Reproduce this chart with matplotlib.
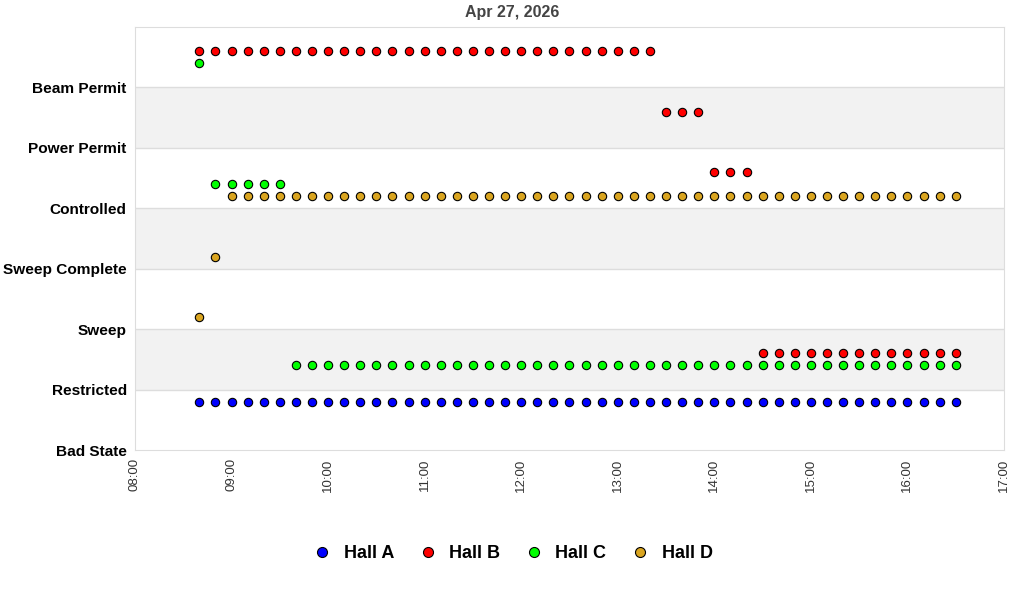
import numpy as np
import matplotlib.pyplot as plt
import matplotlib.dates as mdates
from datetime import datetime, timedelta

states = ["Bad State", "Restricted", "Sweep", "Sweep Complete",
          "Controlled", "Power Permit", "Beam Permit"]
halls = ["Hall A", "Hall B", "Hall C", "Hall D"]
colors = ["#0000ff", "#ff0000", "#00ff00", "#daa520"]
offsets = [-0.2, 0.6, 0.4, 0.2]

# samples every 10 min, 08:40 .. 16:30
start = datetime(2026, 4, 27, 8, 40)
times = [start + timedelta(minutes=10 * i) for i in range(48)]

hall_a = [1] * 48
hall_b = [6] * 29 + [5] * 3 + [4] * 3 + [1] * 13
hall_c = [6] * 1 + [4] * 5 + [1] * 42
hall_d = [2, 3] + [4] * 46
series = [hall_a, hall_b, hall_c, hall_d]

plt.rcParams['font.family'] = ['Liberation Sans', 'DejaVu Sans']
fig = plt.figure(figsize=(10.24, 6), dpi=100)
ax = fig.add_axes([135 / 1024, 1 - 450 / 600, 869 / 1024, 423 / 600])

for lo in (1, 3, 5):
    ax.axhspan(lo, lo + 1, color="#f2f2f2", zorder=0, lw=0)
for y in range(1, 7):
    ax.axhline(y, color="#dddddd", lw=1, zorder=1)

for name, vals, c, off in zip(halls, series, colors, offsets):
    ax.plot(times, np.array(vals) + off, "o", ms=6, mfc=c, mec="black",
            mew=0.8, label=name, zorder=3, ls="none")

ax.set_ylim(0, 7)
ax.set_yticks(range(7))
ax.set_yticklabels(states, fontsize=11.1, fontweight="bold")
ax.set_xlim(datetime(2026, 4, 27, 8, 0), datetime(2026, 4, 27, 17, 0))
ax.xaxis.set_major_locator(mdates.HourLocator())
ax.xaxis.set_major_formatter(mdates.DateFormatter("%H:%M"))
ax.tick_params(axis="x", labelrotation=90, labelsize=9.5, length=0,
               labelcolor="#333333", pad=6)
ax.tick_params(axis="y", length=0, pad=6)
for s in ax.spines.values():
    s.set_color("#dddddd")

fig.text(0.5, 1 - 12 / 600, "Apr 27, 2026", ha="center", va="center",
         fontsize=11.5, fontweight="bold", color="#444444")

fig.legend(loc="center", bbox_to_anchor=(0.5, 1 - 554 / 600), ncol=4, frameon=False,
           prop={"size": 13, "weight": "bold"}, markerscale=1.2,
           handletextpad=0.6, columnspacing=1.25, handlelength=1.2)

fig.savefig("out.png", dpi=100)
